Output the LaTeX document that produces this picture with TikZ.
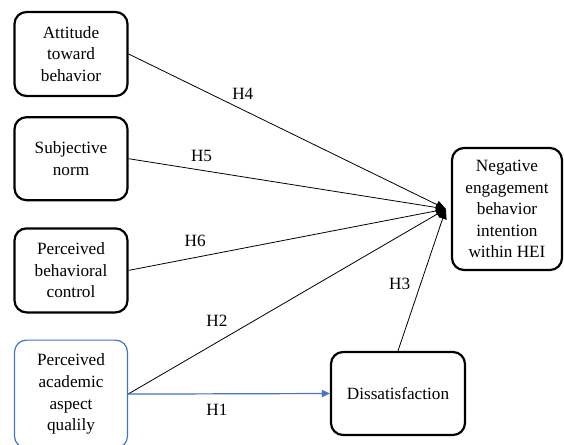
\documentclass[tikz,border=0pt]{standalone}
\usepackage{fontspec}
\setmainfont{Liberation Serif}
\usepackage{xcolor}
\usepackage{tikz}
\usetikzlibrary{positioning, arrows.meta, calc}
\definecolor{linkblue}{HTML}{4472C4}
\definecolor{boxblack}{HTML}{000000}

\begin{document}
\begin{tikzpicture}[x=0.5pt, y=-0.5pt,
  font=\fontsize{8.6}{10.8}\selectfont,
  varbox/.style={draw=boxblack, line width=1.1pt, rounded corners=6pt, align=center,
                 minimum width=56.5pt, minimum height=42pt, inner sep=2pt},
  bluebox/.style={varbox, draw=linkblue, line width=0.6pt},
  link/.style={draw=black, line width=0.4pt, -{Triangle[length=5pt, width=4pt]}},
  bluelink/.style={draw=linkblue, line width=0.6pt, -{Triangle[length=4pt, width=3.6pt]}},
  hlabel/.style={inner sep=1pt}]
  \useasboundingbox (0,0) rectangle (564,445);
  \node[varbox] (attitude) at (71,54) {Attitude\\toward\\behavior};
  \node[varbox, below=9.5pt of attitude, minimum height=41.5pt] (norm) {Subjective\\norm};
  \node[varbox, below=13pt of norm] (control) {Perceived\\behavioral\\control};
  \node[bluebox, below=13pt of control, minimum height=54pt] (quality) {Perceived\\academic\\aspect\\qualily};
  \node[varbox, minimum width=55pt, minimum height=61pt] (intention) at (507,209)
    {Negative\\engagement\\behavior\\intention\\within HEI};
  \node[varbox, minimum width=67pt, minimum height=41.5pt] (dissat) at (398,393.5) {Dissatisfaction};
  \coordinate (hub) at ([xshift=-2.5pt]intention.west);
  \draw[link] (attitude.east) -- node[hlabel, pos=0.36, above=4pt] {H4} (hub);
  \draw[link] (norm.east) -- node[hlabel, pos=0.23, above=3pt] {H5} (hub);
  \draw[link] (control.east) -- node[hlabel, pos=0.21, above=4pt] {H6} (hub);
  \draw[link] (quality.east) -- node[hlabel, pos=0.32, above left=3pt and 0pt] {H2} (hub);
  \draw[link] (dissat.north) -- node[hlabel, pos=0.47, left=4pt] {H3} (hub);
  \draw[bluelink] (quality.east) -- node[hlabel, pos=0.44, below=4pt] {H1} (dissat.west);
\end{tikzpicture}
\end{document}
